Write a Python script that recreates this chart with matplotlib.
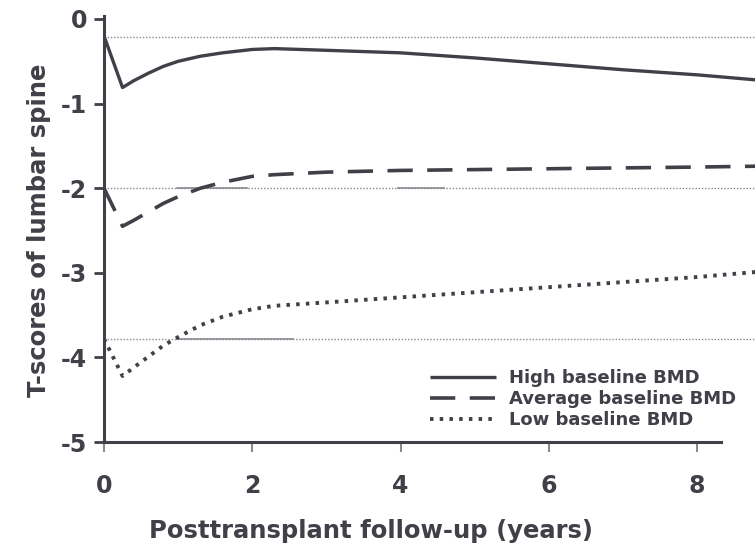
import numpy as np
import matplotlib.pyplot as plt

plt.rcParams['font.family'] = ['DejaVu Sans']
plt.rcParams['font.weight'] = 'bold'

INK = '#404048'
GRID = '#8a8a92'

# follow-up time (years) and modelled T-scores per baseline group
years = [0, 0.25, 0.4, 0.6, 0.8, 1.0, 1.3, 1.6, 2.0, 2.3, 3, 4, 5, 6, 7, 8, 8.8]
high_bmd = [-0.20, -0.81, -0.73, -0.64, -0.56, -0.50, -0.44, -0.40, -0.36,
            -0.35, -0.37, -0.40, -0.46, -0.53, -0.60, -0.66, -0.72]
avg_bmd = [-2.00, -2.45, -2.38, -2.28, -2.18, -2.10, -2.00, -1.93, -1.86,
           -1.84, -1.81, -1.79, -1.78, -1.77, -1.76, -1.75, -1.74]
low_bmd = [-3.78, -4.22, -4.12, -3.99, -3.86, -3.76, -3.62, -3.52, -3.43,
           -3.39, -3.35, -3.29, -3.23, -3.17, -3.11, -3.05, -2.99]

# baseline reference levels
ref_levels = [-0.21, -2.0, -3.78]
# short solid pieces sitting on the reference lines
ref_solid = [(-2.0, 0.99, 1.93), (-2.0, 3.96, 4.58), (-3.78, 0.99, 2.55)]

x_ticks = [0, 2, 4, 6, 8]
y_ticks = [0, -1, -2, -3, -4, -5]

fig = plt.figure(figsize=(7.55, 5.5), dpi=100)
ax = fig.add_axes([104 / 755, 1 - 442 / 550, 1 - 104 / 755, 423 / 550])

for lvl in ref_levels:
    ax.axhline(lvl, color=GRID, lw=1.0, ls=(0, (1, 1.3)), zorder=1)
for lvl, x0, x1 in ref_solid:
    ax.plot([x0, x1], [lvl, lvl], color=GRID, lw=1.2, zorder=1)

ax.plot(years, high_bmd, color=INK, lw=2.4, solid_capstyle='butt',
        solid_joinstyle='round', label='High baseline BMD', zorder=3)
ax.plot(years, avg_bmd, color=INK, lw=2.6, ls=(0, (7, 4)),
        label='Average baseline BMD', zorder=3)
ax.plot(years, low_bmd, color=INK, lw=2.8, ls=(0, (0.9, 1.6)),
        label='Low baseline BMD', zorder=3)

ax.set_xlim(0, 8.78)
ax.set_ylim(-5, 0)
ax.set_xticks(x_ticks)
ax.set_yticks(y_ticks)
ax.set_yticklabels([str(t) for t in y_ticks])

for side in ['top', 'right']:
    ax.spines[side].set_visible(False)
for side in ['left', 'bottom']:
    ax.spines[side].set_color(INK)
    ax.spines[side].set_linewidth(2.2)
ax.spines['bottom'].set_bounds(0, 8.32)
ax.spines['left'].set_bounds(-5, 0.03)

ax.tick_params(axis='y', direction='out', length=7, width=2, color=INK,
               labelsize=17, labelcolor=INK, pad=5)
ax.tick_params(axis='x', direction='out', length=7, width=1.5, color=GRID,
               labelsize=17, labelcolor=INK, pad=16)

ax.set_xlabel('Posttransplant follow-up (years)', fontsize=17.5,
              fontweight='bold', color=INK)
ax.xaxis.set_label_coords(0.41, -0.183)
ax.set_ylabel('T-scores of lumbar spine', fontsize=17.5, fontweight='bold',
              color=INK, labelpad=7)

leg = ax.legend(loc='upper left', bbox_to_anchor=(0.50, 0.173), frameon=False,
                fontsize=13, handlelength=3.7, handletextpad=0.7,
                labelspacing=0.18, borderpad=0, borderaxespad=0)
for txt in leg.get_texts():
    txt.set_color(INK)
    txt.set_fontweight('bold')

fig.savefig('out.png', dpi=100)
